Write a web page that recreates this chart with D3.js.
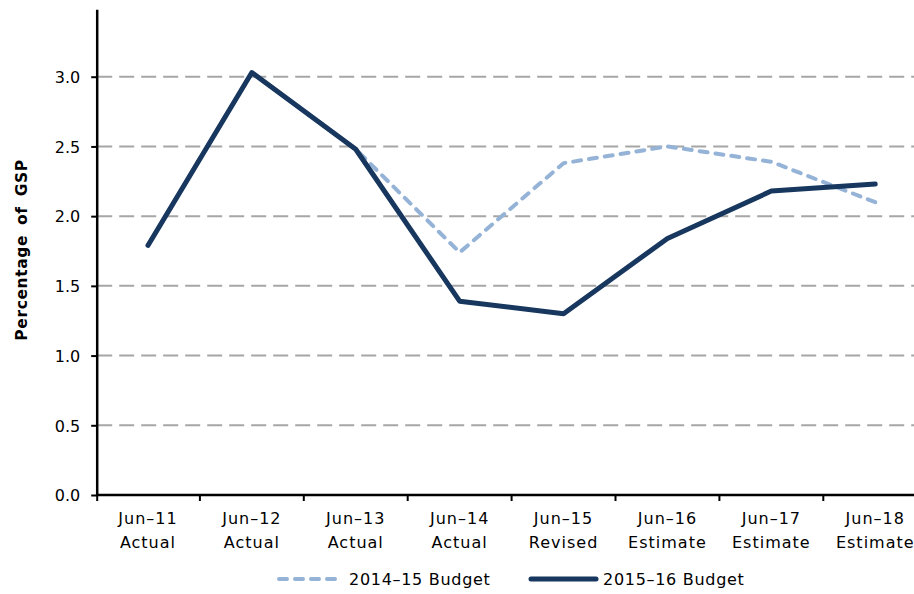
<!DOCTYPE html>
<html>
<head>
<meta charset="utf-8">
<script src="https://cdn.jsdelivr.net/npm/d3@7"></script>
<style>
  html, body { margin: 0; padding: 0; background: #fff; }
  svg { display: block; }
  text { font-family: "DejaVu Sans", Verdana, sans-serif; fill: #000; }
</style>
</head>
<body>
<svg id="chart" width="914" height="594"></svg>
<script>
// Financial years and their status labels
const periods = ["Jun–11", "Jun–12", "Jun–13", "Jun–14", "Jun–15", "Jun–16", "Jun–17", "Jun–18"];
const statuses = ["Actual", "Actual", "Actual", "Actual", "Revised", "Estimate", "Estimate", "Estimate"];

// Percentage of GSP by budget
const budget2014_15 = [1.79, 3.03, 2.48, 1.74, 2.38, 2.50, 2.39, 2.10];
const budget2015_16 = [1.79, 3.03, 2.48, 1.39, 1.30, 1.84, 2.18, 2.23];

const yTicks = [0, 0.5, 1.0, 1.5, 2.0, 2.5, 3.0];
const seriesNames = ["2014–15 Budget", "2015–16 Budget"];

const svg = d3.select("#chart");
const bandStart = 96, bandEnd = 927.2, axisX = 97.2, plotTop = 7, plotBottom = 495;

const x = d3.scaleBand().domain(periods).range([bandStart, bandEnd]);
const y = d3.scaleLinear().domain([0, 3.5]).range([plotBottom, plotTop]);
const cx = d => x(d) + x.bandwidth() / 2;

// Horizontal dashed gridlines
svg.append("g")
  .selectAll("line")
  .data(yTicks.filter(t => t > 0))
  .join("line")
  .attr("x1", axisX).attr("x2", 914)
  .attr("y1", d => y(d)).attr("y2", d => y(d))
  .attr("stroke", "#a6a6a6")
  .attr("stroke-width", 2)
  .attr("stroke-dasharray", "15,7");

// Y axis
const yAxis = svg.append("g")
  .attr("transform", `translate(${axisX},0)`)
  .call(d3.axisLeft(y).tickValues(yTicks).tickFormat(d3.format(".1f")).tickSize(6).tickPadding(11));
yAxis.select(".domain").remove();
yAxis.selectAll(".tick line").attr("stroke", "#000").attr("stroke-width", 2);
yAxis.selectAll(".tick text").style("font-size", "16px").attr("dy", "0.36em");
svg.append("line")
  .attr("x1", axisX).attr("x2", axisX)
  .attr("y1", y(3.48)).attr("y2", plotBottom + 1)
  .attr("stroke", "#000").attr("stroke-width", 2.5);

// X axis with ticks on category boundaries
const xg = svg.append("g");
xg.append("line")
  .attr("x1", axisX).attr("x2", 914)
  .attr("y1", plotBottom).attr("y2", plotBottom)
  .attr("stroke", "#000").attr("stroke-width", 2.5);
xg.selectAll("line.tick")
  .data(periods.slice(1))
  .join("line")
  .attr("class", "tick")
  .attr("x1", d => x(d)).attr("x2", d => x(d))
  .attr("y1", plotBottom).attr("y2", plotBottom + 6)
  .attr("stroke", "#000").attr("stroke-width", 2);
xg.append("line")
  .attr("x1", axisX).attr("x2", axisX)
  .attr("y1", plotBottom).attr("y2", plotBottom + 6)
  .attr("stroke", "#000").attr("stroke-width", 2);
const labels = xg.selectAll("text")
  .data(periods)
  .join("text")
  .attr("text-anchor", "middle")
  .style("font-size", "16px")
  .style("letter-spacing", "1px");
labels.append("tspan")
  .attr("x", d => cx(d)).attr("y", 524)
  .text(d => d);
labels.append("tspan")
  .attr("x", d => cx(d)).attr("y", 548)
  .text((d, i) => statuses[i]);

// Y axis title
svg.append("text")
  .attr("transform", "translate(27,250) rotate(-90)")
  .attr("text-anchor", "middle")
  .style("font-size", "15.5px")
  .style("font-weight", "bold")
  .style("letter-spacing", "0.6px")
  .style("word-spacing", "4px")
  .text("Percentage of GSP");

// Lines
const line = d3.line()
  .x((d, i) => cx(periods[i]))
  .y(d => y(d));

svg.append("path")
  .datum(budget2014_15)
  .attr("d", line)
  .attr("fill", "none")
  .attr("stroke", "#95b3d7")
  .attr("stroke-width", 4)
  .attr("stroke-linecap", "round")
  .attr("stroke-linejoin", "round")
  .attr("stroke-dasharray", "8,8");

svg.append("path")
  .datum(budget2015_16)
  .attr("d", line)
  .attr("fill", "none")
  .attr("stroke", "#17375e")
  .attr("stroke-width", 5)
  .attr("stroke-linecap", "round")
  .attr("stroke-linejoin", "round");

// Legend
const legend = svg.append("g");
const legendItems = [
  { name: seriesNames[0], color: "#95b3d7", width: 4, dash: "8,8", x1: 279, x2: 340, tx: 349 },
  { name: seriesNames[1], color: "#17375e", width: 5, dash: null, x1: 531, x2: 596, tx: 603 }
];
legendItems.forEach(it => {
  legend.append("line")
    .attr("x1", it.x1).attr("x2", it.x2)
    .attr("y1", 579).attr("y2", 579)
    .attr("stroke", it.color)
    .attr("stroke-width", it.width)
    .attr("stroke-linecap", "round")
    .attr("stroke-dasharray", it.dash);
  legend.append("text")
    .attr("x", it.tx).attr("y", 585)
    .style("font-size", "16px")
    .style("letter-spacing", "0.7px")
    .text(it.name);
});
</script>
</body>
</html>
